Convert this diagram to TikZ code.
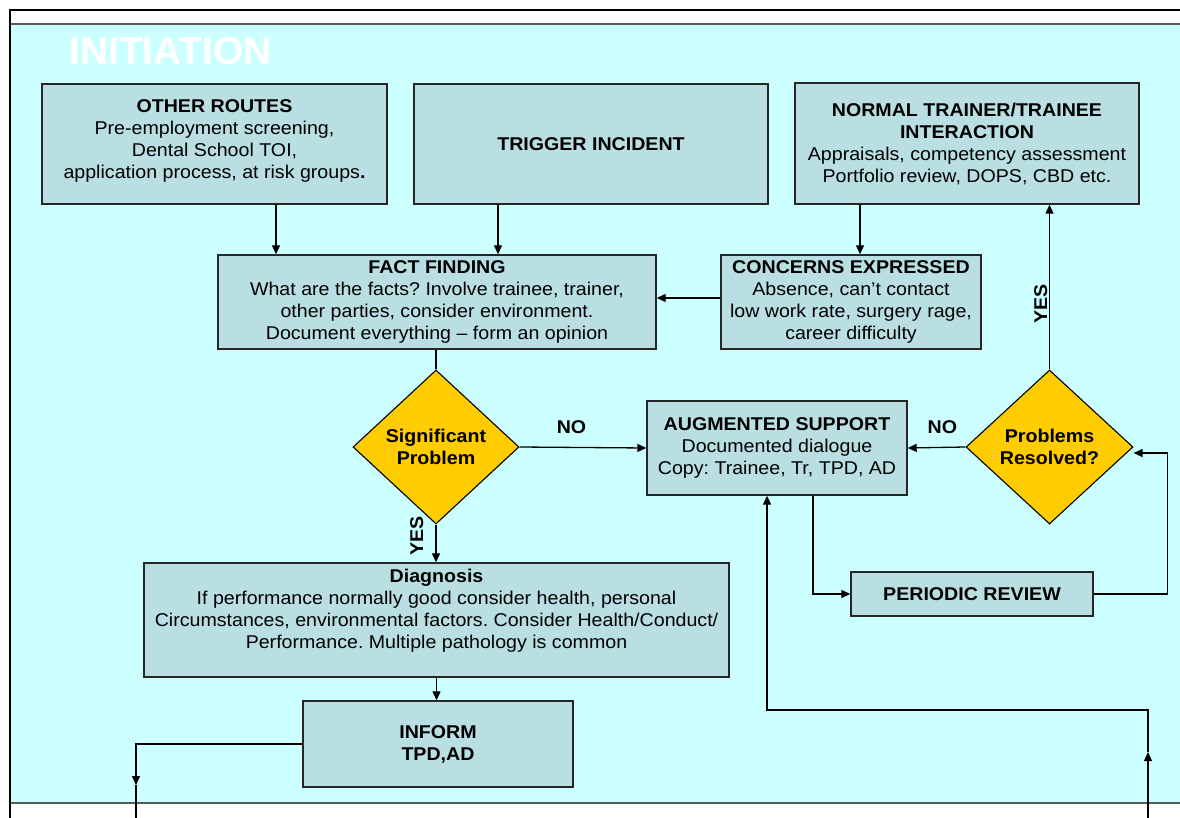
\documentclass[tikz,border=0pt]{standalone}
\usepackage{fontspec}
\setmainfont{Liberation Sans}[FakeStretch=1.06]
\newfontfamily\titlefont{Liberation Sans}
\usetikzlibrary{arrows.meta,shapes.geometric}
\definecolor{bgcyan}{HTML}{CCFFFF}
\definecolor{boxfill}{HTML}{BADFE3}
\definecolor{decfill}{HTML}{FFCC00}
\definecolor{edgec}{HTML}{262626}
\frenchspacing
\begin{document}
\begin{tikzpicture}[x=1pt,y=-1pt,
  box/.style={draw=edgec,line width=1.4pt,fill=boxfill,align=center,inner sep=2pt,
    font=\fontsize{18.5}{22}\selectfont,text=black},
  dec/.style={draw=black,line width=1.1pt,fill=decfill,shape=diamond,inner sep=0pt,
    align=center,font=\fontsize{18.5}{22}\selectfont\bfseries},
  arr/.style={line width=1.3pt,-{Triangle[length=9pt,width=8pt]}},
  conn/.style={line width=1.3pt},
  lbl/.style={font=\fontsize{18.5}{20}\selectfont\bfseries,inner sep=0pt}]
\useasboundingbox (0,0) rectangle (1180,818);
\fill[white] (0,0) rectangle (1180,818);
\fill[bgcyan] (10,24) rectangle (1180,803);
\draw[line width=1.5pt,black!65] (10,24) -- (1180,24);
\draw[line width=1.5pt,black!65] (10,803) -- (1180,803);
\draw[line width=2pt] (10,818) -- (10,10) -- (1180,10);
\node[anchor=base west,text=white,font=\titlefont\fontsize{39}{40}\selectfont\bfseries,inner sep=0pt]
  (title) at (69,65) {INITIATION};

% boxes
\node[box,minimum width=345pt,minimum height=120pt] (oth) at (214.5,144)
  {\textbf{OTHER ROUTES}\\Pre-employment screening,\\Dental School TOI,\\application process, at risk groups\textbf{.}\\[-12pt]\mbox{}};
\node[box,minimum width=354pt,minimum height=120pt] (trig) at (591,144)
  {\textbf{TRIGGER INCIDENT}};
\node[box,minimum width=344pt,minimum height=121pt] (norm) at (967,143.5)
  {\textbf{NORMAL TRAINER/TRAINEE}\\\textbf{INTERACTION}\\Appraisals, competency assessment\\Portfolio review, DOPS, CBD etc.};
\node[box,minimum width=438pt,minimum height=94pt] (fact) at (437,302)
  {\textbf{FACT FINDING}\\What are the facts? Involve trainee, trainer,\\other parties, consider environment.\\Document everything – form an opinion};
\node[box,minimum width=260pt,minimum height=94pt] (conc) at (851,302)
  {\textbf{CONCERNS EXPRESSED}\\Absence, can’t contact\\low work rate, surgery rage,\\career difficulty};
\node[dec,minimum width=166pt,minimum height=154pt] (sig) at (436,447)
  {Significant\\Problem};
\node[box,minimum width=260pt,minimum height=94pt] (aug) at (777,448)
  {\textbf{AUGMENTED SUPPORT}\\Documented dialogue\\Copy: Trainee, Tr, TPD, AD};
\node[dec,minimum width=167pt,minimum height=154pt] (res) at (1049.5,447)
  {Problems\\Resolved?};
\node[box,minimum width=242pt,minimum height=44pt] (per) at (972,594)
  {\textbf{PERIODIC REVIEW}};
\node[box,minimum width=585pt,minimum height=114pt] (diag) at (436.5,620)
  {\textbf{Diagnosis}\\If performance normally good consider health, personal\\Circumstances, environmental factors. Consider Health/Conduct/\\Performance. Multiple pathology is common\\\mbox{}};
\node[box,minimum width=270pt,minimum height=86pt] (inf) at (438,744)
  {\textbf{INFORM}\\\textbf{TPD,AD}};

% free ends
\coordinate (outL) at (136,818);
\coordinate (midL) at (136,785);
\coordinate (outR) at (1148,818);
\coordinate (midR) at (1148,752);

% connectors
\draw[arr] (276,0 |- oth.south) -- (276,0 |- fact.north);
\draw[arr] (498,0 |- trig.south) -- (498,0 |- fact.north);
\draw[arr] (860,0 |- norm.south) -- (860,0 |- conc.north);
\draw[arr] (conc.west |- 0,298) -- (fact.east |- 0,298);
\draw[conn] (sig.north |- fact.south) -- (sig.north);
\draw[arr] (sig.east) -- (aug.west) node[lbl,pos=0.41,above=13pt] (no1) {NO};
\draw[arr] (sig.south) -- (sig.south |- diag.north)
  node[lbl,pos=0.3,rotate=90,anchor=south,yshift=12pt] (yes1) {YES};
\draw[arr] (res.west) -- (aug.east) node[lbl,pos=0.4,above=13pt] (no2) {NO};
\draw[arr] (res.north) -- (res.north |- norm.south)
  node[lbl,pos=0.4,rotate=90,anchor=south,yshift=1.5pt] (yes2) {YES};
\draw[arr] (813,0 |- aug.south) |- (per.west);
\draw[arr] (per.east) -- ++(74,0) |- (res.east |- 0,453);
\draw[arr] (diag.south) -- (diag.south |- inf.north);
\draw[arr] (inf.west) -| (midL);
\draw[conn] (midL) -- (outL);
\draw[arr] (outR) -- (midR);
\draw[arr] (midR) -- (midR |- 0,710) -| (767,0 |- aug.south);
\end{tikzpicture}
\end{document}
